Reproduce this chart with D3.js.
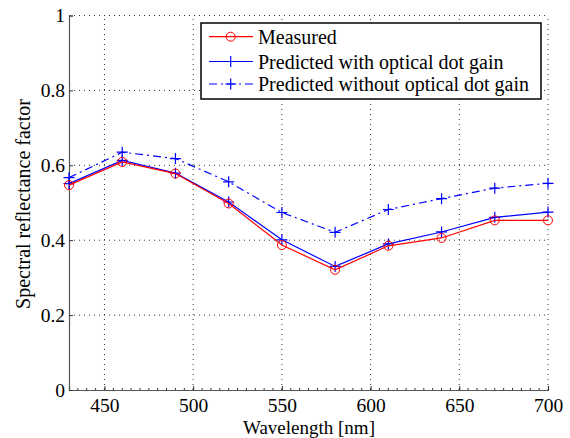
<!DOCTYPE html>
<html>
<head>
<meta charset="utf-8">
<script src="https://cdn.jsdelivr.net/npm/d3@7"></script>
<style>
  body { margin: 0; background: #fff; }
</style>
</head>
<body>
<div id="chart"></div>
<script>
// Chart size
var width = 570;
var height = 438;
var serif = "'Liberation Serif'";

// Data
var wavelengths = [430, 460, 490, 520, 550, 580, 610, 640, 670, 700];
var measured = [0.547, 0.609, 0.578, 0.498, 0.387, 0.321, 0.385, 0.406, 0.453, 0.453];
var predictedWith = [0.551, 0.613, 0.579, 0.502, 0.401, 0.330, 0.390, 0.422, 0.461, 0.475];
var predictedWithout = [0.567, 0.635, 0.618, 0.556, 0.474, 0.421, 0.482, 0.511, 0.539, 0.552];
var xTicks = [450, 500, 550, 600, 650, 700];
var yTicks = [0, 0.2, 0.4, 0.6, 0.8, 1];
var seriesNames = ["Measured", "Predicted with optical dot gain", "Predicted without optical dot gain"];

var margin = {top: 15.5, right: 22, bottom: 48, left: 69};

var svg = d3.select("#chart").append("svg")
  .attr("width", width)
  .attr("height", height);

var x = d3.scaleLinear().domain([430, 700]).range([margin.left, width - margin.right]);
var y = d3.scaleLinear().domain([0, 1]).range([height - margin.bottom, margin.top]);

// Dotted grid
var grid = svg.append("g").attr("stroke", "#333").attr("stroke-width", 1)
  .attr("stroke-dasharray", "1,4");
grid.selectAll(".vg").data(xTicks).enter().append("line")
  .attr("x1", function(d) { return x(d); })
  .attr("x2", function(d) { return x(d); })
  .attr("y1", y(0)).attr("y2", y(1));
grid.selectAll(".hg").data(yTicks.slice(1)).enter().append("line")
  .attr("y1", function(d) { return y(d); })
  .attr("y2", function(d) { return y(d); })
  .attr("x1", x(430)).attr("x2", x(700));

// Axes
var xAxis = svg.append("g")
  .attr("transform", "translate(0," + y(0) + ")")
  .call(d3.axisBottom(x).tickValues(xTicks).tickSize(-4).tickPadding(8.5).tickFormat(d3.format("d")));
// minor ticks every 5 nm
xAxis.selectAll(".minor").data(d3.range(435, 700, 5)).enter().append("line")
  .attr("x1", function(d) { return x(d); })
  .attr("x2", function(d) { return x(d); })
  .attr("y1", 0).attr("y2", -2)
  .attr("stroke", "#333");
var yAxis = svg.append("g")
  .attr("transform", "translate(" + x(430) + ",0)")
  .call(d3.axisLeft(y).tickValues(yTicks).tickSize(-4).tickPadding(4).tickFormat(function(d) { return d === 0 || d === 1 ? d : d3.format(".1f")(d); }));

[xAxis, yAxis].forEach(function(a) {
  a.attr("font-family", null).attr("font-size", null);
  a.select(".domain").attr("stroke", "#555").attr("stroke-width", 1.2);
  a.selectAll(".tick line").attr("stroke", "#333");
  a.selectAll(".tick text").attr("fill", "#000")
    .style("font-family", serif).style("font-size", "19.5px");
});

// Axis titles
svg.append("text")
  .attr("x", 309)
  .attr("y", 433.5)
  .attr("text-anchor", "middle")
  .style("font-family", serif).style("font-size", "19px")
  .text("Wavelength [nm]");
svg.append("text")
  .attr("transform", "translate(29.5,204) rotate(-90)")
  .attr("text-anchor", "middle")
  .style("font-family", serif).style("font-size", "20px")
  .text("Spectral reflectance factor");

// Lines
var line = d3.line()
  .x(function(d, i) { return x(wavelengths[i]); })
  .y(function(d) { return y(d); });

var series = [
  {values: measured, color: "#ff0000", dash: null, marker: "circle"},
  {values: predictedWith, color: "#0000ff", dash: null, marker: "plus"},
  {values: predictedWithout, color: "#0000ff", dash: "8,4,2,4", marker: "plus"}
];

function drawMarker(g, type, cx, cy, color) {
  if (type === "circle") {
    g.append("circle").attr("cx", cx).attr("cy", cy).attr("r", 4.5)
      .attr("fill", "none").attr("stroke", color).attr("stroke-width", 1);
  } else {
    g.append("path")
      .attr("d", "M" + (cx - 5.5) + "," + cy + "H" + (cx + 5.5) + "M" + cx + "," + (cy - 5.5) + "V" + (cy + 5.5))
      .attr("stroke", color).attr("stroke-width", 1.2);
  }
}

// draw the dash-dot first, then blue solid, then red on top
[2, 1, 0].forEach(function(k) {
  var s = series[k];
  var g = svg.append("g");
  g.append("path").datum(s.values)
    .attr("fill", "none")
    .attr("stroke", s.color)
    .attr("stroke-width", 1.2)
    .attr("stroke-dasharray", s.dash)
    .attr("d", line);
  s.values.forEach(function(v, i) {
    drawMarker(g, s.marker, x(wavelengths[i]), y(v), s.color);
  });
});

// Legend
var legend = svg.append("g");
legend.append("rect")
  .attr("x", 201).attr("y", 23).attr("width", 340).attr("height", 76)
  .attr("fill", "#fff").attr("stroke", "#000").attr("stroke-width", 1.5);
var rowY = [36.7, 61.5, 84];
series.forEach(function(s, i) {
  legend.append("line")
    .attr("x1", 209).attr("x2", 253)
    .attr("y1", rowY[i]).attr("y2", rowY[i])
    .attr("stroke", s.color).attr("stroke-width", 1.2)
    .attr("stroke-dasharray", s.dash);
  drawMarker(legend, s.marker, 230.7, rowY[i], s.color);
  legend.append("text")
    .attr("x", 258).attr("y", rowY[i] + 7.3)
    .style("font-family", serif).style("font-size", "20px")
    .text(seriesNames[i]);
});
</script>
</body>
</html>
